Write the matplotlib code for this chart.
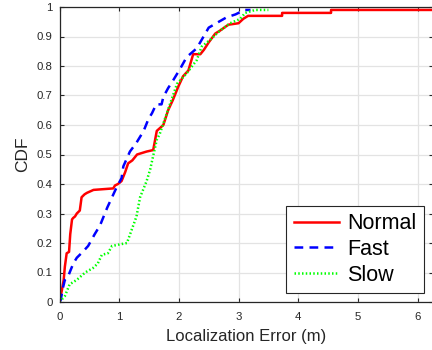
import numpy as np
import matplotlib.pyplot as plt

plt.rcParams['font.family'] = ['Liberation Sans', 'DejaVu Sans']

# points (error in m, cumulative fraction)
normal_x = [0, 0.02, 0.04, 0.07, 0.09, 0.12, 0.16, 0.18, 0.21, 0.23, 0.26, 0.29, 0.34, 0.37, 0.42,
            0.46, 0.57, 0.9, 0.93, 0.98, 1.04, 1.1, 1.15, 1.22, 1.3, 1.46, 1.57, 1.63, 1.74,
            1.82, 1.9, 1.99, 2.07, 2.16, 2.24, 2.36, 2.42, 2.5, 2.61, 2.69, 2.83, 3.0, 3.08,
            3.16, 3.73, 3.73, 4.55, 4.55, 6.3]
normal_y = [0, 0.02, 0.04, 0.075, 0.12, 0.165, 0.17, 0.23, 0.28, 0.285, 0.29, 0.30, 0.31, 0.355, 0.365,
            0.37, 0.38, 0.385, 0.395, 0.40, 0.41, 0.44, 0.47, 0.48, 0.50, 0.51, 0.515, 0.58, 0.60,
            0.65, 0.685, 0.73, 0.765, 0.785, 0.84, 0.84, 0.855, 0.88, 0.91, 0.92, 0.94, 0.945, 0.96,
            0.97, 0.97, 0.98, 0.98, 0.99, 0.99]

fast_x = [0, 0.02, 0.06, 0.09, 0.14, 0.23, 0.29, 0.39, 0.48, 0.59, 0.68, 0.74, 0.8, 0.88, 0.96,
          1.04, 1.07, 1.18, 1.29, 1.41, 1.49, 1.55, 1.62, 1.71, 1.74, 1.82, 1.9, 2.02, 2.13,
          2.3, 2.5, 2.67, 2.8, 2.95, 3.1, 3.2]
fast_y = [0, 0.007, 0.05, 0.075, 0.085, 0.13, 0.15, 0.17, 0.19, 0.23, 0.26, 0.29, 0.32, 0.355, 0.39,
          0.42, 0.46, 0.51, 0.54, 0.58, 0.62, 0.64, 0.67, 0.67, 0.695, 0.725, 0.75, 0.79, 0.83,
          0.86, 0.93, 0.95, 0.965, 0.975, 0.99, 0.99]

slow_x = [0, 0.09, 0.17, 0.29, 0.43, 0.56, 0.64, 0.71, 0.81, 0.88, 1.13, 1.21, 1.29, 1.35,
          1.46, 1.52, 1.63, 1.68, 1.85, 1.97, 2.13, 2.3, 2.38, 2.53, 2.69, 2.86, 3.03, 3.11,
          3.28, 3.5]
slow_y = [0, 0.02, 0.06, 0.075, 0.10, 0.115, 0.13, 0.16, 0.165, 0.19, 0.20, 0.245, 0.29, 0.355,
          0.41, 0.45, 0.55, 0.57, 0.67, 0.74, 0.775, 0.82, 0.865, 0.89, 0.92, 0.945, 0.96, 0.98,
          0.99, 0.99]

fig = plt.figure(figsize=(4.32, 3.5), dpi=100)
ax = fig.add_axes([59.5 / 432, 48 / 350, 373 / 432, 295 / 350])

ax.plot(normal_x, normal_y, color='#ff0000', lw=1.8, label='Normal')
ax.plot(fast_x, fast_y, color='#0000ff', lw=1.8, ls=(0, (3.5, 2.5)), label='Fast')
ax.plot(slow_x, slow_y, color='#00ff00', lw=1.8, ls=(0, (0.6, 0.9)), label='Slow')

ax.set_xlim(0, 6.25)
ax.set_ylim(0, 1)
ax.set_xticks(range(7))
ax.set_yticks(np.arange(0, 1.01, 0.1))
ax.set_yticklabels(['0', '0.1', '0.2', '0.3', '0.4', '0.5', '0.6', '0.7', '0.8', '0.9', '1'])
ax.grid(True, color='#e3e3e3', lw=0.9)
ax.set_axisbelow(True)
ax.tick_params(direction='in', top=True, right=True, length=3, width=0.8,
               labelsize=8.2, colors='#262626')
ax.tick_params(axis='x', pad=7)
ax.tick_params(axis='y', pad=5)
for s in ax.spines.values():
    s.set_color('#262626')
    s.set_linewidth(0.9)

ax.set_xlabel('Localization Error (m)', fontsize=12, color='#262626', labelpad=5)
ax.set_ylabel('CDF', fontsize=12.5, color='#262626', labelpad=5)

leg = ax.legend(loc='lower right', bbox_to_anchor=(0.978, 0.03), fontsize=15.5,
                fancybox=False, framealpha=1, edgecolor='#262626', handlelength=2.1,
                handletextpad=0.4, borderpad=0.35, labelspacing=0.22, borderaxespad=0)
leg.get_frame().set_linewidth(0.8)

fig.savefig('out.png', dpi=100)
